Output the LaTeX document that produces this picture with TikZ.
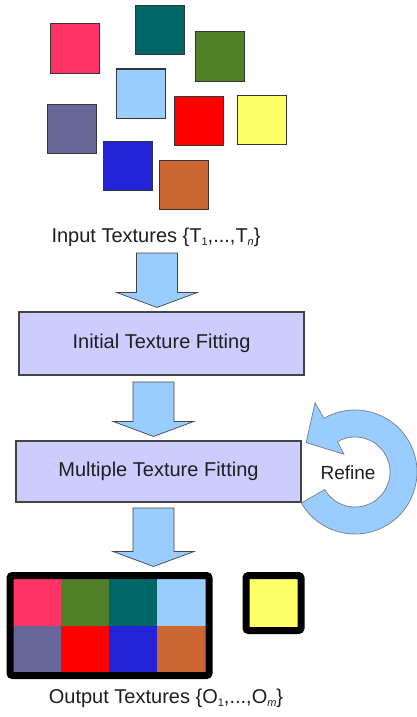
\documentclass[tikz,border=0pt]{standalone}
\usepackage{fontspec}
\setmainfont{Liberation Sans}
\usetikzlibrary{calc}

\definecolor{pinkc}{HTML}{FF3366}
\definecolor{tealc}{HTML}{006666}
\definecolor{greenc}{HTML}{52802A}
\definecolor{lightbc}{HTML}{99CCFF}
\definecolor{redc}{HTML}{FF0000}
\definecolor{yellowc}{HTML}{FFFF66}
\definecolor{slatec}{HTML}{666699}
\definecolor{bluec}{HTML}{2323D8}
\definecolor{orangec}{HTML}{CC6633}
\definecolor{boxfill}{HTML}{CCCCFF}
\definecolor{inkc}{HTML}{1E1E1E}
\definecolor{edgec}{HTML}{444444}

% small, lowered index as used in the set captions
\newcommand\lowidx[1]{\raisebox{-3pt}{\fontsize{11}{11}\selectfont #1}}

\begin{document}
\begin{tikzpicture}[x=1pt, y=-1pt,
  tex/.style={draw=edgec!80!black, line width=1pt, minimum size=49pt, inner sep=0pt, outer sep=0pt},
  cell/.style={minimum width=48pt, minimum height=47pt, inner sep=0pt, outer sep=0pt},
  caption/.style={text=inkc, font=\fontsize{20}{24}\selectfont, inner sep=0pt},
  procbox/.style={draw=edgec, line width=1.1pt, fill=boxfill, text=inkc,
    font=\fontsize{20}{24}\selectfont, inner sep=0pt, minimum width=285pt},
  fat arrow/.style={draw=edgec, line width=0.7pt, fill=lightbc, line join=miter,
    to path={let \p1=(\tikztostart), \p2=(\tikztotarget) in
      (\x1-20.5pt,\y1) -- (\x1+20.5pt,\y1) -- (\x1+20.5pt,\y2+15pt)
      -- (\x1+40.5pt,\y2+15pt) -- (\x2,\y2) -- (\x1-40.5pt,\y2+15pt)
      -- (\x1-20.5pt,\y2+15pt) -- cycle}},
  loop arrow/.style={draw=edgec!70, line width=0.7pt, fill=lightbc}
]
\useasboundingbox (0,0) rectangle (417,717);

% scattered input textures
\node[tex, fill=pinkc]   (t1) at (74.5,48.5)  {};
\node[tex, fill=tealc]   (t2) at (159.5,30)   {};
\node[tex, fill=greenc]  (t3) at (219.5,56.5) {};
\node[tex, fill=lightbc] (t4) at (140.5,93.5) {};
\node[tex, fill=redc]    (t5) at (198.5,121)  {};
\node[tex, fill=yellowc] (t6) at (261.5,119.5){};
\node[tex, fill=slatec]  (t7) at (71.5,128.5) {};
\node[tex, fill=bluec]   (t8) at (127.5,165.5){};
\node[tex, fill=orangec] (t9) at (184,184.5)  {};

\node[caption] (intext) at (156,237)
  {Input Textures \{T\lowidx{1},...,T\lowidx{\itshape n}\}};

% processing steps
\node[procbox, minimum height=63pt] (init) at (161.5,343.5) {Initial Texture Fitting};
\node[procbox, minimum height=61pt] (multi) at (158.5,471.5) {Multiple Texture Fitting};

% packed output textures
\node[cell, fill=pinkc]   (o1) at (37,602.5)  {};
\node[cell, fill=greenc]  (o2) at (85,602.5)  {};
\node[cell, fill=tealc]   (o3) at (133,602.5) {};
\node[cell, fill=lightbc, minimum width=50pt] (o4) at (182,602.5) {};
\node[cell, fill=slatec]  (o5) at (37,649)    {};
\node[cell, fill=redc]    (o6) at (85,649)    {};
\node[cell, fill=bluec]   (o7) at (133,649)   {};
\node[cell, fill=orangec, minimum width=50pt] (o8) at (182,649) {};
\node[draw=black, line width=7pt, rounded corners=2.5pt, minimum width=199pt,
      minimum height=100pt, inner sep=0pt, outer sep=0pt] (outgrid) at (109.5,625.5) {};
\node[draw=black, fill=yellowc, line width=7pt, rounded corners=2.5pt, minimum width=55pt,
      minimum height=55pt, inner sep=0pt, outer sep=0pt] (outsingle) at (273.5,603) {};

\node[caption] (outtext) at (166,698)
  {Output Textures \{O\lowidx{1},...,O\lowidx{\itshape m}\}};

% block arrows between the stages
\coordinate (a1) at (157,253);
\coordinate (a2) at (153.5,382);
\coordinate (a3) at (153.5,508);
\draw[fat arrow] (a1) to ($(init.north -| a1)+(0,-4)$);
\draw[fat arrow] (a2) to ($(multi.north -| a2)+(0,-4)$);
\draw[fat arrow] (a3) to ($(outgrid.north -| a3)+(0,-9)$);

% refinement loop
\coordinate (loopc) at (355,472);
\draw[loop arrow] ($(loopc)+(-210:62)$) arc[start angle=-210, end angle=-480, radius=62]
  -- ($(loopc)+(-120:80)$) -- ($(loopc)+(-149:57)$) -- ($(loopc)+(-122:21)$)
  -- ($(loopc)+(-120:35)$) arc[start angle=-480, end angle=-210, radius=35] -- cycle;
\node[text=inkc, font=\fontsize{19}{23}\selectfont, inner sep=0pt] (refine) at (348,473) {Refine};
\end{tikzpicture}
\end{document}
